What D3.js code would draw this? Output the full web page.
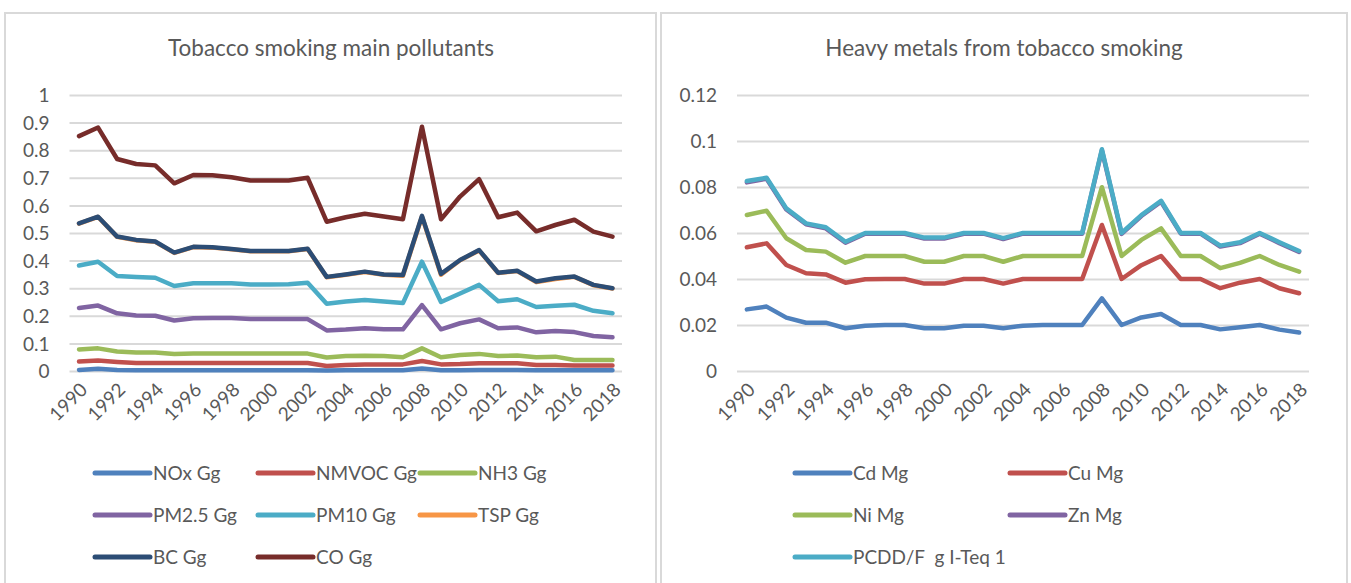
<!DOCTYPE html>
<html>
<head>
<meta charset="utf-8">
<script src="https://cdn.jsdelivr.net/npm/d3@7"></script>
<style>
  html, body { margin: 0; padding: 0; background: #ffffff; }
  svg { display: block; }
  text { font-family: Lato, "Open Sans", sans-serif; fill: #595959; white-space: pre; }
</style>
</head>
<body>
<svg id="chart" width="1351" height="583"></svg>
<script>
// Years on the category axis
const years = d3.range(1990, 2019);
const yearTickLabels = ["1990","1992","1994","1996","1998","2000","2002","2004","2006","2008","2010","2012","2014","2016","2018"];

// Tobacco smoking main pollutants (Gg)
const noxGg   = [0.004,0.008,0.004,0.003,0.003,0.003,0.003,0.003,0.003,0.003,0.003,0.003,0.003,0.002,0.003,0.003,0.003,0.003,0.009,0.003,0.003,0.004,0.004,0.004,0.003,0.003,0.003,0.003,0.003];
const nmvocGg = [0.034,0.038,0.033,0.029,0.029,0.029,0.029,0.029,0.029,0.029,0.029,0.029,0.029,0.018,0.022,0.024,0.024,0.024,0.036,0.024,0.025,0.028,0.028,0.028,0.022,0.022,0.020,0.020,0.020];
const nh3Gg   = [0.078,0.082,0.071,0.067,0.067,0.062,0.063,0.063,0.063,0.063,0.063,0.063,0.063,0.049,0.054,0.055,0.054,0.050,0.082,0.050,0.058,0.062,0.054,0.056,0.050,0.052,0.040,0.040,0.040];
const pm25Gg  = [0.228,0.237,0.209,0.201,0.200,0.183,0.191,0.192,0.192,0.188,0.188,0.188,0.188,0.147,0.150,0.155,0.151,0.151,0.239,0.151,0.173,0.187,0.155,0.158,0.140,0.145,0.141,0.127,0.122];
const pm10Gg  = [0.382,0.396,0.344,0.341,0.338,0.308,0.318,0.318,0.318,0.313,0.313,0.314,0.320,0.244,0.252,0.257,0.252,0.246,0.396,0.250,0.281,0.312,0.253,0.260,0.232,0.236,0.240,0.218,0.209];
const tspGg   = [0.534,0.558,0.486,0.474,0.468,0.428,0.449,0.447,0.441,0.434,0.434,0.434,0.442,0.340,0.349,0.359,0.349,0.345,0.560,0.349,0.401,0.437,0.355,0.362,0.322,0.333,0.341,0.311,0.299];
const bcGg    = [0.535,0.559,0.487,0.475,0.469,0.429,0.450,0.448,0.442,0.435,0.435,0.435,0.443,0.341,0.350,0.360,0.350,0.348,0.562,0.352,0.402,0.438,0.356,0.363,0.324,0.336,0.342,0.312,0.300];
const coGg    = [0.851,0.882,0.768,0.750,0.745,0.680,0.710,0.709,0.702,0.690,0.690,0.690,0.700,0.541,0.557,0.570,0.560,0.550,0.885,0.550,0.632,0.695,0.557,0.574,0.506,0.529,0.548,0.505,0.487];

// Heavy metals and dioxins from tobacco smoking
const cdMg   = [0.0268,0.0280,0.0232,0.0210,0.0210,0.0186,0.0197,0.0200,0.0200,0.0186,0.0186,0.0197,0.0197,0.0186,0.0197,0.0200,0.0200,0.0200,0.0316,0.0200,0.0233,0.0248,0.0200,0.0200,0.0181,0.0190,0.0200,0.0180,0.0167];
const cuMg   = [0.0538,0.0555,0.0461,0.0425,0.0420,0.0384,0.0399,0.0400,0.0400,0.0380,0.0380,0.0400,0.0400,0.0380,0.0400,0.0400,0.0400,0.0400,0.0635,0.0400,0.0460,0.0500,0.0400,0.0400,0.0360,0.0384,0.0400,0.0360,0.0338];
const niMg   = [0.0678,0.0697,0.0577,0.0526,0.0519,0.0471,0.0500,0.0500,0.0500,0.0475,0.0475,0.0500,0.0500,0.0475,0.0500,0.0500,0.0500,0.0500,0.0799,0.0500,0.0570,0.0620,0.0500,0.0500,0.0447,0.0470,0.0500,0.0461,0.0432];
const znMg   = [0.0820,0.0836,0.0702,0.0638,0.0620,0.0558,0.0597,0.0597,0.0597,0.0576,0.0576,0.0597,0.0597,0.0574,0.0597,0.0597,0.0597,0.0597,0.0960,0.0596,0.0674,0.0736,0.0597,0.0597,0.0541,0.0556,0.0597,0.0556,0.0518];
const pcddF  = [0.0826,0.0840,0.0707,0.0642,0.0625,0.0562,0.0600,0.0600,0.0600,0.0580,0.0580,0.0600,0.0600,0.0578,0.0600,0.0600,0.0600,0.0600,0.0964,0.0600,0.0678,0.0740,0.0600,0.0600,0.0545,0.0560,0.0600,0.0560,0.0522];

const leftTicks  = [0,0.1,0.2,0.3,0.4,0.5,0.6,0.7,0.8,0.9,1];
const rightTicks = [0,0.02,0.04,0.06,0.08,0.1,0.12];

const pollutantSeries = [
  { name: "NOx Gg",   values: noxGg,   color: "#4F81BD" },
  { name: "NMVOC Gg", values: nmvocGg, color: "#C0504D" },
  { name: "NH3 Gg",   values: nh3Gg,   color: "#9BBB59" },
  { name: "PM2.5 Gg", values: pm25Gg,  color: "#8064A2" },
  { name: "PM10 Gg",  values: pm10Gg,  color: "#4BACC6" },
  { name: "TSP Gg",   values: tspGg,   color: "#F79646" },
  { name: "BC Gg",    values: bcGg,    color: "#2C4D75" },
  { name: "CO Gg",    values: coGg,    color: "#772C2A" }
];
const metalSeries = [
  { name: "Cd Mg",   values: cdMg,  color: "#4F81BD" },
  { name: "Cu Mg",   values: cuMg,  color: "#C0504D" },
  { name: "Ni Mg",   values: niMg,  color: "#9BBB59" },
  { name: "Zn Mg",   values: znMg,  color: "#8064A2" },
  { name: "PCDD/F  g I-Teq 1", values: pcddF, color: "#4BACC6" }
];

const svg = d3.select("#chart");
const fmt = d => String(+d.toFixed(2));

function drawPanel(cfg) {
  const g = svg.append("g");

  // panel frame
  g.append("rect")
    .attr("x", cfg.frame[0]).attr("y", cfg.frame[1])
    .attr("width", cfg.frame[2]).attr("height", cfg.frame[3])
    .attr("fill", "#ffffff").attr("stroke", "#D9D9D9").attr("stroke-width", 2);

  g.append("text")
    .attr("x", cfg.titleX).attr("y", 56)
    .attr("text-anchor", "middle")
    .style("font-size", "22.5px")
    .text(cfg.title);

  const x = d3.scalePoint().domain(years).range(cfg.xRange).padding(0.5);
  const y = d3.scaleLinear().domain(cfg.yDomain).range([371, 95]);

  // horizontal gridlines with value labels
  const yAxis = d3.axisLeft(y).tickValues(cfg.ticks).tickFormat(fmt)
    .tickSize(-(cfg.xRange[1] - cfg.xRange[0])).tickPadding(cfg.tickPad);
  const ya = g.append("g").attr("transform", `translate(${cfg.xRange[0]},0)`).call(yAxis);
  ya.select(".domain").remove();
  ya.selectAll(".tick line").attr("stroke", "#D9D9D9").attr("stroke-width", 2);
  ya.selectAll(".tick text").style("font-size", "19px").attr("fill", "#595959")
    .style("font-family", "Lato, sans-serif").attr("dy", "0.35em");

  // category axis labels (every other year)
  const xAxis = d3.axisBottom(x)
    .tickValues(yearTickLabels.map(Number)).tickSize(0).tickPadding(0);
  const xa = g.append("g").attr("transform", "translate(0,371)").call(xAxis);
  xa.select(".domain").remove();
  xa.selectAll(".tick text")
    .style("font-size", "19px").attr("fill", "#595959")
    .style("font-family", "Lato, sans-serif")
    .attr("text-anchor", "end")
    .attr("dy", null).attr("y", 0)
    .attr("transform", "translate(9,20) rotate(-45)");

  // series lines
  const line = d3.line().x((d, i) => x(years[i])).y(d => y(d));
  g.selectAll("path.series").data(cfg.series).enter().append("path")
    .attr("class", "series")
    .attr("d", s => line(s.values))
    .attr("fill", "none").attr("stroke", s => s.color)
    .attr("stroke-width", 4.5).attr("stroke-linejoin", "round").attr("stroke-linecap", "round");

  // legend
  const items = g.selectAll("g.legend").data(cfg.series).enter().append("g")
    .attr("class", "legend")
    .attr("transform", (s, i) => `translate(${cfg.legendCols[i % cfg.legendCols.length]},${473 + 42 * Math.floor(i / cfg.legendCols.length)})`);
  items.append("line").attr("x1", 0).attr("x2", 55).attr("y1", 0).attr("y2", 0)
    .attr("stroke", s => s.color).attr("stroke-width", 5).attr("stroke-linecap", "round");
  items.append("text").attr("x", 58).attr("y", 0).attr("dy", "0.35em")
    .style("font-size", "19px").text(s => s.name);
}

drawPanel({
  frame: [5, 13, 651, 600],
  title: "Tobacco smoking main pollutants",
  titleX: 331,
  xRange: [69.5, 622],
  yDomain: [0, 1],
  ticks: leftTicks,
  tickPad: 20,
  series: pollutantSeries,
  legendCols: [95, 258, 420]
});

drawPanel({
  frame: [661, 13, 686, 600],
  title: "Heavy metals from tobacco smoking",
  titleX: 1004,
  xRange: [737, 1309],
  yDomain: [0, 0.12],
  ticks: rightTicks,
  tickPad: 20,
  series: metalSeries,
  legendCols: [795, 1010]
});
</script>
</body>
</html>
